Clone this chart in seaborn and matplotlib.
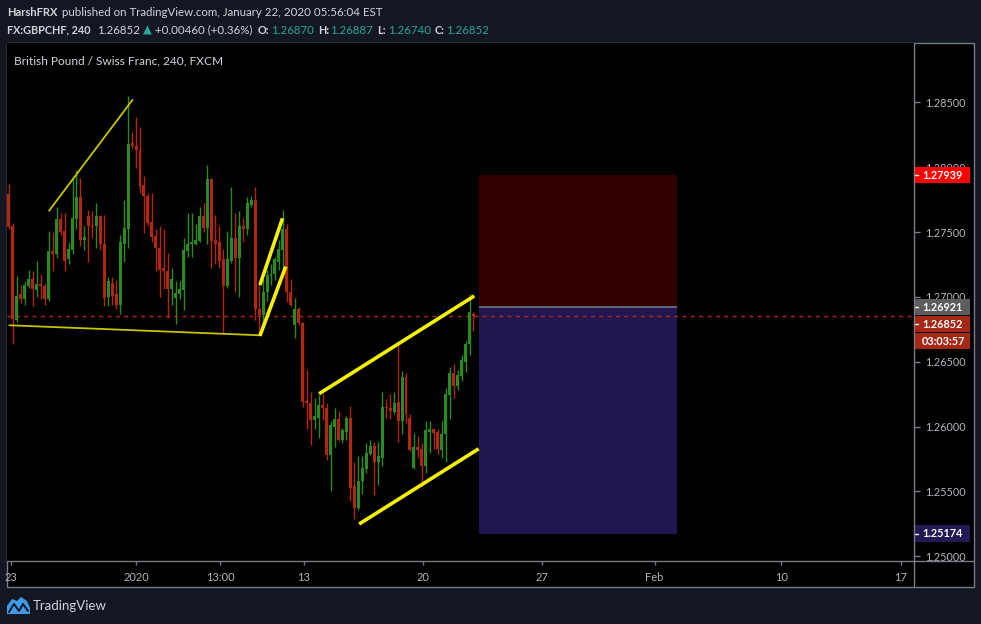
import numpy as np
import pandas as pd
import seaborn as sns
import matplotlib.pyplot as plt
import matplotlib.transforms as mtransforms
from matplotlib.patches import Rectangle, Polygon
from matplotlib.lines import Line2D

# GBPCHF 4h candles (bar index 0 = Dec 23)
opens = [1.2779, 1.2755, 1.2682, 1.2702, 1.2698, 1.2708, 1.2714, 1.2705, 1.2710, 1.2708,
         1.2698, 1.2735, 1.2733, 1.2760, 1.2751, 1.2729, 1.2736, 1.2760, 1.2777, 1.2744,
         1.2762, 1.2755, 1.2755, 1.2762, 1.2741, 1.2700, 1.2711, 1.2702, 1.2694, 1.2741,
         1.2752, 1.2819, 1.2816, 1.2813, 1.2786, 1.2778, 1.2758, 1.2747, 1.2738, 1.2722,
         1.2720, 1.2706, 1.2699, 1.2702, 1.2705, 1.2735, 1.2741, 1.2741, 1.2743, 1.2762,
         1.2753, 1.2791, 1.2744, 1.2742, 1.2729, 1.2708, 1.2728, 1.2745, 1.2730, 1.2755,
         1.2752, 1.2771, 1.2775, 1.2691, 1.2686, 1.2704, 1.2716, 1.2718, 1.2727, 1.2736,
         1.2752, 1.2704, 1.2678, 1.2691, 1.2680, 1.2620, 1.2618, 1.2605, 1.2607, 1.2617,
         1.2614, 1.2578, 1.2600, 1.2606, 1.2590, 1.2596, 1.2607, 1.2554, 1.2537, 1.2558,
         1.2567, 1.2579, 1.2585, 1.2573, 1.2576, 1.2615, 1.2614, 1.2611, 1.2619, 1.2604,
         1.2638, 1.2607, 1.2568, 1.2584, 1.2583, 1.2570, 1.2596, 1.2598, 1.2596, 1.2582,
         1.2594, 1.2624, 1.2641, 1.2631, 1.2639, 1.2650, 1.2664, 1.26870]
highs = [1.2787, 1.2757, 1.2716, 1.2709, 1.2712, 1.2721, 1.2720, 1.2728, 1.2718, 1.2711,
         1.2751, 1.2750, 1.2769, 1.2765, 1.2765, 1.2742, 1.2792, 1.2798, 1.2792, 1.2755,
         1.2767, 1.2766, 1.2772, 1.2763, 1.2763, 1.2715, 1.2715, 1.2713, 1.2748, 1.2775,
         1.2855, 1.2827, 1.2839, 1.2831, 1.2793, 1.2780, 1.2780, 1.2752, 1.2755, 1.2752,
         1.2734, 1.2722, 1.2712, 1.2712, 1.2745, 1.2765, 1.2765, 1.2756, 1.2769, 1.2772,
         1.2802, 1.2792, 1.2763, 1.2755, 1.2737, 1.2751, 1.2785, 1.2765, 1.2766, 1.2761,
         1.2777, 1.2778, 1.2785, 1.2710, 1.2714, 1.2721, 1.2725, 1.2731, 1.2744, 1.2767,
         1.2756, 1.2714, 1.2699, 1.2692, 1.2681, 1.2644, 1.2627, 1.2622, 1.2624, 1.2625,
         1.2618, 1.2604, 1.2614, 1.2612, 1.2599, 1.2608, 1.2616, 1.2573, 1.2577, 1.2577,
         1.2587, 1.2590, 1.2588, 1.2588, 1.2627, 1.2621, 1.2625, 1.2627, 1.2663, 1.2643,
         1.2641, 1.2610, 1.2595, 1.2593, 1.2587, 1.2604, 1.2604, 1.2599, 1.2598, 1.2604,
         1.2630, 1.2646, 1.2648, 1.2644, 1.2655, 1.2666, 1.2702, 1.26887]
lows = [1.2752, 1.2664, 1.2681, 1.2695, 1.2694, 1.2707, 1.2693, 1.2700, 1.2698, 1.2694,
        1.2697, 1.2720, 1.2730, 1.2748, 1.2720, 1.2725, 1.2733, 1.2752, 1.2739, 1.2736,
        1.2727, 1.2745, 1.2738, 1.2736, 1.2693, 1.2693, 1.2694, 1.2691, 1.2687, 1.2727,
        1.2738, 1.2815, 1.2799, 1.2780, 1.2749, 1.2755, 1.2742, 1.2720, 1.2700, 1.2706,
        1.2684, 1.2694, 1.2679, 1.2698, 1.2690, 1.2731, 1.2731, 1.2740, 1.2742, 1.2750,
        1.2741, 1.2722, 1.2725, 1.2722, 1.2671, 1.2707, 1.2726, 1.2704, 1.2700, 1.2742,
        1.2748, 1.2769, 1.2682, 1.2671, 1.2677, 1.2697, 1.2709, 1.2713, 1.2721, 1.2721,
        1.2696, 1.2693, 1.2668, 1.2678, 1.2615, 1.2598, 1.2586, 1.2598, 1.2591, 1.2605,
        1.2574, 1.2550, 1.2584, 1.2589, 1.2587, 1.2590, 1.2543, 1.2529, 1.2536, 1.2548,
        1.2564, 1.2578, 1.2547, 1.2555, 1.2570, 1.2607, 1.2606, 1.2610, 1.2588, 1.2594,
        1.2603, 1.2581, 1.2567, 1.2576, 1.2556, 1.2564, 1.2580, 1.2583, 1.2579, 1.2576,
        1.2573, 1.2606, 1.2622, 1.2628, 1.2635, 1.2642, 1.2655, 1.26740]
closes = [1.2754, 1.2683, 1.2701, 1.2698, 1.2709, 1.2714, 1.2706, 1.2710, 1.2708, 1.2698,
          1.2735, 1.2733, 1.2760, 1.2750, 1.2728, 1.2737, 1.2761, 1.2777, 1.2744, 1.2746,
          1.2755, 1.2754, 1.2762, 1.2741, 1.2699, 1.2712, 1.2701, 1.2694, 1.2742, 1.2753,
          1.2818, 1.2816, 1.2813, 1.2785, 1.2778, 1.2757, 1.2746, 1.2738, 1.2721, 1.2720,
          1.2706, 1.2714, 1.2703, 1.2706, 1.2736, 1.2741, 1.2742, 1.2744, 1.2762, 1.2753,
          1.2791, 1.2743, 1.2741, 1.2728, 1.2708, 1.2729, 1.2745, 1.2730, 1.2755, 1.2752,
          1.2772, 1.2775, 1.2691, 1.2686, 1.2704, 1.2717, 1.2718, 1.2729, 1.2737, 1.2752,
          1.2704, 1.2694, 1.2691, 1.2680, 1.2619, 1.2618, 1.2605, 1.2608, 1.2617, 1.2614,
          1.2578, 1.2601, 1.2606, 1.2590, 1.2597, 1.2607, 1.2553, 1.2537, 1.2558, 1.2568,
          1.2580, 1.2585, 1.2573, 1.2577, 1.2615, 1.2614, 1.2612, 1.2618, 1.2604, 1.2638,
          1.2610, 1.2582, 1.2584, 1.2582, 1.2570, 1.2597, 1.2598, 1.2595, 1.2583, 1.2594,
          1.2625, 1.2641, 1.2631, 1.2640, 1.2651, 1.2664, 1.2688, 1.26852]

time_ticks = [0.4, 32.1, 53.2, 74.3, 104.3, 134.2, 162.6, 194.5, 224.7]
time_labels = ["23", "2020", "13:00", "13", "20", "27", "Feb", "10", "17"]
price_ticks = [1.250, 1.255, 1.260, 1.265, 1.270, 1.275, 1.280, 1.285]

# user drawings: (bar index pair, price pair)
thin_lines = {
    "rise": ([10.1, 31.1], [1.27664, 1.28518]),
    "base": ([0.1, 63.2], [1.26781, 1.26704]),
}
thick_lines = {
    "flag_top": ([63.2, 68.9], [1.27091, 1.27606]),
    "flag_bottom": ([63.2, 69.7], [1.26699, 1.27233]),
    "channel_top": ([78.1, 117.2], [1.26253, 1.27007]),
    "channel_bottom": ([88.2, 118.3], [1.25249, 1.25829]),
}

stop_price = 1.27939
entry_price = 1.26921
target_price = 1.25174
last_price = 1.26852
position_span = (118.4, 168.3)

GREEN = "#2a8a24"
RED = "#b3260f"
TEAL = "#26a69a"
FG = "#d1d4dc"
GRID = "#787b86"

sns.set_style("dark", {"axes.facecolor": "black", "figure.facecolor": "#131722"})
plt.rcParams["font.family"] = ["Lato", "DejaVu Sans"]

W, H = 981, 624
fig = plt.figure(figsize=(W / 100, H / 100), dpi=100)


def fx(px):
    return px / W


def fy(py):
    return 1 - py / H


# chart panel frame
fig.add_artist(Rectangle((fx(7), fy(587)), fx(974) - fx(7), fy(43) - fy(587),
                         transform=fig.transFigure, facecolor="black",
                         edgecolor=GRID, lw=1, zorder=-1))

ax = fig.add_axes([fx(7), fy(561), fx(914) - fx(7), fy(43) - fy(561)])
ax.set_facecolor("black")
ax.grid(False)
for s in ax.spines.values():
    s.set_visible(False)

df = pd.DataFrame({"o": opens, "h": highs, "l": lows, "c": closes})
df["i"] = np.arange(len(df))
up = df["c"] >= df["o"]
cols = np.where(up, GREEN, RED)
body_lo = df[["o", "c"]].min(axis=1)
body_h = (df["c"] - df["o"]).abs().clip(lower=0.00008)

# long/short position tool
x0, x1 = position_span
ax.add_patch(Rectangle((x0, entry_price), x1 - x0, stop_price - entry_price,
                       facecolor="#330000", lw=0, zorder=1))
ax.add_patch(Rectangle((x0, target_price), x1 - x0, entry_price - target_price,
                       facecolor="#21164f", lw=0, zorder=1))
ax.hlines(entry_price, x0, x1, color="#6a6d78", lw=1.3, zorder=2)

ax.vlines(df["i"], df["l"], df["h"], colors=cols, lw=1, zorder=2)
ax.bar(df["i"], body_h, bottom=body_lo, width=0.75, color=cols, lw=0, zorder=3)

ax.axhline(last_price, color="#b3260f", ls=(0, (3, 3)), lw=1, zorder=2)

for name, (xs, ys) in thin_lines.items():
    sns.lineplot(x=xs, y=ys, ax=ax, color="#c8c400", lw=1.3, zorder=4)
for name, (xs, ys) in thick_lines.items():
    sns.lineplot(x=xs, y=ys, ax=ax, color="#f5f000", lw=2.6, zorder=4,
                 solid_capstyle="butt")

ax.set_xlim(-0.5, 227.96)
ax.set_ylim(1.24964, 1.28957)

ax.yaxis.tick_right()
ax.set_yticks(price_ticks)
ax.set_yticklabels([f"{p:.5f}" for p in price_ticks])
ax.tick_params(axis="y", length=4, width=1, color=GRID, labelcolor="#b2b5be",
               labelsize=7.8, pad=4, right=True, left=False)
ax.set_xticks(time_ticks)
ax.set_xticklabels(time_labels)
ax.tick_params(axis="x", length=3, width=1, color=GRID, labelcolor="#b2b5be",
               labelsize=8, pad=5, bottom=True)
ax.set_xlabel("")
ax.set_ylabel("")

# separators between plot, price scale and time scale
fig.add_artist(Line2D([fx(914), fx(914)], [fy(43), fy(587)], color=GRID, lw=1))
fig.add_artist(Line2D([fx(7), fx(974)], [fy(561), fy(561)], color=GRID, lw=1))

# price scale labels
trans = mtransforms.blended_transform_factory(ax.transAxes, ax.transData)
ppx = (1.28957 - 1.24964) / 518
box_w = 56 / 907


def scale_label(price, text, bg, shift_px=0, tick=True):
    yc = price - shift_px * ppx
    ax.add_patch(Rectangle((1.0, yc - 8.3 * ppx), box_w, 16.6 * ppx, transform=trans,
                           facecolor=bg, lw=0, clip_on=False, zorder=10))
    if tick:
        ax.plot([1.0, 1.0 + 4 / 907], [yc, yc], transform=trans, color="white",
                lw=1, clip_on=False, zorder=11)
    ax.text(1.0 + 8 / 907, yc, text, transform=trans, va="center", ha="left",
            color="white", fontsize=7.8, fontweight="bold", clip_on=False, zorder=11)


scale_label(stop_price, f"{stop_price:.5f}", "#ff0000")
scale_label(entry_price, f"{entry_price:.5f}", "#5d5d5d")
scale_label(last_price, f"{last_price:.5f}", "#a52714", shift_px=8)
scale_label(last_price, "03:03:57", "#a52714", shift_px=25, tick=False)
scale_label(target_price, f"{target_price:.5f}", "#221a55")

# header
hdr1 = [(7, "HarshFRX", "bold", FG),
        (62, "published on TradingView.com, January 22, 2020 05:56:04 EST", "normal", FG)]
hdr2 = [(7, "FX:GBPCHF, 240", "bold", FG), (97, "1.26852", "normal", FG),
        (143, "\u25b2", "normal", TEAL), (155, "+0.00460 (+0.36%)", "normal", FG),
        (258, "O:", "bold", FG), (271, "1.26870", "normal", TEAL),
        (318, "H:", "bold", FG), (330, "1.26887", "normal", TEAL),
        (377, "L:", "bold", FG), (388, "1.26740", "normal", TEAL),
        (435, "C:", "bold", FG), (446, "1.26852", "normal", TEAL)]
for x, t, w, c in hdr1:
    fig.text(fx(x), fy(13), t, fontsize=8.3 if w == "normal" else 8.0,
             fontweight=w, color=c, va="center")
for x, t, w, c in hdr2:
    fig.text(fx(x), fy(30), t, fontsize=8.3 if w == "normal" else 7.8,
             fontweight=w, color=c, va="center")

fig.text(fx(14), fy(61), "British Pound / Swiss Franc, 240, FXCM", fontsize=8.6,
         color=FG, va="center")

# footer logo
fig.add_artist(Polygon([(fx(7), fy(614)), (fx(7), fy(606)), (fx(12), fy(599)),
                        (fx(17), fy(601)), (fx(21), fy(597)), (fx(27), fy(601)),
                        (fx(30), fy(608)), (fx(30), fy(614))],
                       closed=True, transform=fig.transFigure, facecolor="#3d9be9", lw=0))
fig.add_artist(Line2D([fx(9), fx(14), fx(19), fx(23), fx(28)],
                      [fy(612), fy(604), fy(611), fy(604), fy(611)],
                      color="#131722", lw=1.4))
fig.text(fx(33), fy(606), "TradingView", fontsize=9.5, color=FG, va="center")

fig.savefig("out.png", dpi=100, facecolor=fig.get_facecolor())
